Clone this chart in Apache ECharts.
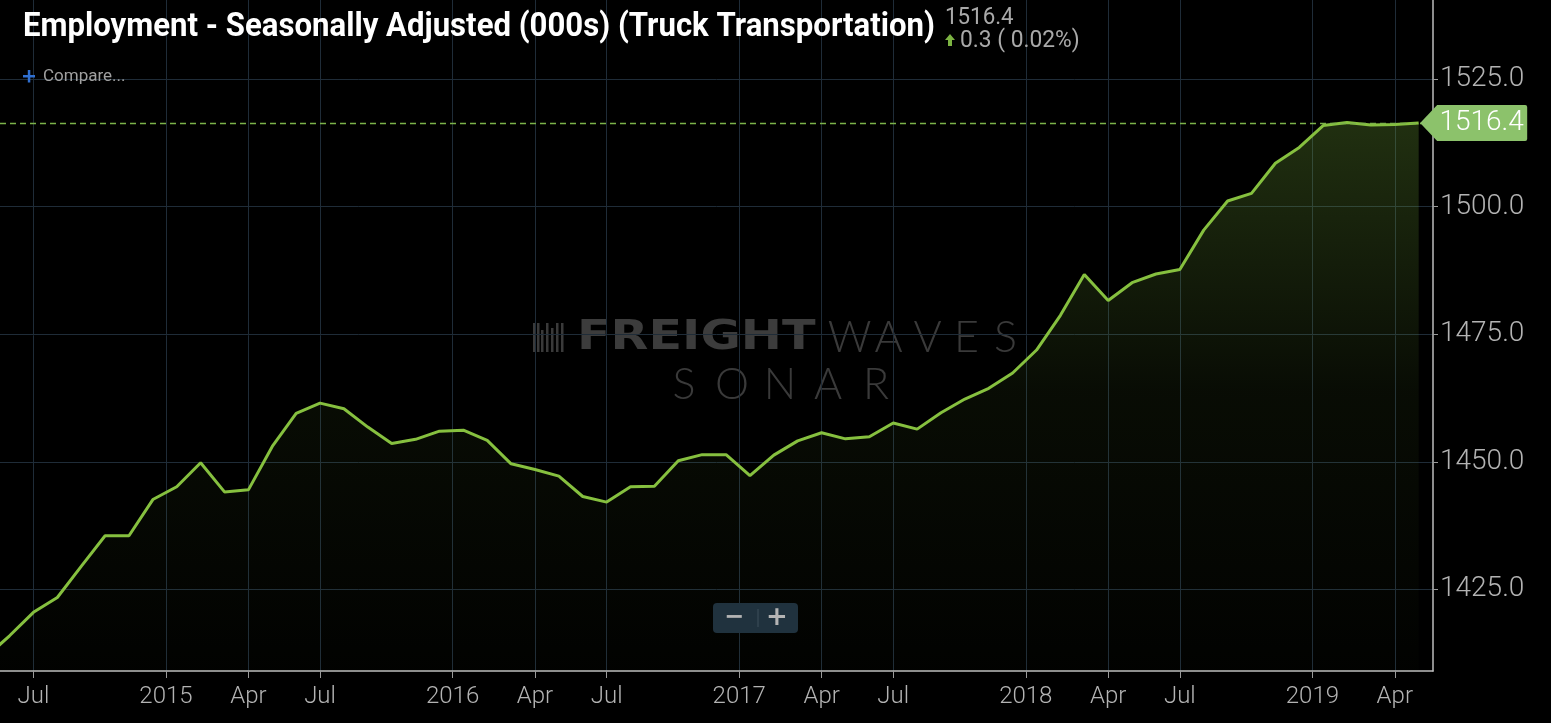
<!DOCTYPE html>
<html><head><meta charset="utf-8">
<script src="https://cdn.jsdelivr.net/npm/echarts@6/dist/echarts.min.js"></script>
<style>html,body{margin:0;padding:0;background:#000;}#c{width:1551px;height:723px;}</style>
</head><body><div id="c"></div>
<script>
const months = ['2014-05','2014-06','2014-07','2014-08','2014-09','2014-10','2014-11','2014-12',
'2015-01','2015-02','2015-03','2015-04','2015-05','2015-06','2015-07','2015-08','2015-09','2015-10','2015-11','2015-12',
'2016-01','2016-02','2016-03','2016-04','2016-05','2016-06','2016-07','2016-08','2016-09','2016-10','2016-11','2016-12',
'2017-01','2017-02','2017-03','2017-04','2017-05','2017-06','2017-07','2017-08','2017-09','2017-10','2017-11','2017-12',
'2018-01','2018-02','2018-03','2018-04','2018-05','2018-06','2018-07','2018-08','2018-09','2018-10','2018-11','2018-12',
'2019-01','2019-02','2019-03','2019-04','2019-05'];
const values = [1411.7,1415.9,1420.5,1423.4,1429.5,1435.5,1435.5,1442.6,
1445.1,1449.8,1444.1,1444.5,1453.0,1459.5,1461.5,1460.4,1456.8,1453.6,1454.4,1456.0,
1456.2,1454.2,1449.6,1448.5,1447.2,1443.2,1442.1,1445.1,1445.2,1450.2,1451.4,1451.4,
1447.3,1451.3,1454.1,1455.7,1454.5,1454.9,1457.6,1456.4,1459.6,1462.3,1464.4,1467.4,
1471.9,1478.7,1486.7,1481.6,1485.1,1486.8,1487.7,1495.4,1501.1,1502.6,1508.5,1511.6,
1515.9,1516.5,1516.0,1516.1,1516.4];
const tickMonths = ['2014-07','2015-01','2015-04','2015-07','2016-01','2016-04','2016-07','2017-01','2017-04','2017-07','2018-01','2018-04','2018-07','2019-01','2019-04'];
const tickLabels = ['Jul','2015','Apr','Jul','2016','Apr','Jul','2017','Apr','Jul','2018','Apr','Jul','2019','Apr'];
const yTicks = [1425,1450,1475,1500,1525];
const titleText = 'Employment - Seasonally Adjusted (000s) (Truck Transportation)';

const lastValue = values[values.length - 1];
const prevValue = values[values.length - 2];
const change = lastValue - prevValue;
const pct = change / prevValue * 100;

// year ticks sit at the Dec/Jan boundary, quarter ticks on the month itself
const tickPos = tickMonths.map(m => months.indexOf(m) - (m.endsWith('-01') ? 0.45 : 0));
const seriesData = months.map((m, i) => [i, values[i]]);

const chart = echarts.init(document.getElementById('c'));

function spaced(str, x0, x1, y, font, color) {
  const n = str.length, step = (x1 - x0) / n;
  return str.split('').map((ch, i) => ({
    type: 'text', z: -10, silent: true, x: x0 + step * (i + 0.5), y: y,
    style: { text: ch, font: font, fill: color, align: 'center', verticalAlign: 'middle' }
  }));
}

const barcode = [];
const barX = [533, 537, 541, 546, 551, 556, 561];
const barH = [[323,352],[323,352],[330,352],[323,352],[328,352],[323,352],[323,352]];
barX.forEach((bx, i) => barcode.push({ type: 'rect', z: -10, silent: true,
  shape: { x: bx, y: barH[i][0], width: 2.5, height: barH[i][1] - barH[i][0] }, style: { fill: '#3a3a3a' } }));

const option = {
  backgroundColor: '#000',
  animation: false,
  grid: { left: 0, right: 118, top: 0, bottom: 52, containLabel: false },
  xAxis: {
    type: 'value', min: 0.6, max: 60.6,
    axisLine: { show: true, lineStyle: { color: '#bdbdbd', width: 1.5 } },
    axisTick: { show: true, customValues: tickPos, length: 7, lineStyle: { color: '#9a9a9a' } },
    axisLabel: { customValues: tickPos, margin: 14, color: '#b3b3b3', fontSize: 24, fontFamily: 'Roboto', fontWeight: 300,
      formatter: v => { const k = tickPos.findIndex(p => Math.abs(p - v) < 0.01); return k >= 0 ? tickLabels[k] : ''; } },
    splitLine: { show: true, lineStyle: { color: '#1f2c38', width: 1 } }
  },
  yAxis: {
    type: 'value', position: 'right', min: 1409, max: 1540.5,
    axisLine: { show: true, lineStyle: { color: '#bdbdbd', width: 1.5 } },
    axisTick: { show: true, customValues: yTicks, length: 5, lineStyle: { color: '#9a9a9a' } },
    axisLabel: { customValues: yTicks, margin: 7, color: '#b3b3b3', fontSize: 28, fontFamily: 'Roboto', fontWeight: 300,
      formatter: v => v.toFixed(1) },
    splitLine: { show: true, lineStyle: { color: '#1f2c38', width: 1 } }
  },
  series: [{
    type: 'line', data: seriesData, showSymbol: false, clip: true,
    lineStyle: { color: '#86c03f', width: 3 },
    areaStyle: { color: { type: 'linear', x: 0, y: 110, x2: 0, y2: 671, global: true,
      colorStops: [ { offset: 0, color: 'rgba(110,160,55,0.44)' }, { offset: 0.5, color: 'rgba(110,160,55,0.11)' }, { offset: 1, color: 'rgba(110,160,55,0.02)' } ] } },
    markLine: { silent: true, symbol: ['none', 'none'], label: { show: false },
      lineStyle: { color: '#7cb34a', type: [6, 4], width: 1.3, opacity: 1 },
      data: [{ yAxis: lastValue }] },
    markPoint: { silent: true,
      symbol: 'path://M0,18 L17,0 L105,0 Q107,0 107,2 L107,34 Q107,36 105,36 L17,36 Z',
      symbolSize: [107, 36], symbolOffset: [55, 0], itemStyle: { color: '#8cc26b' },
      label: { show: true, position: 'inside', offset: [8, 0], color: '#fff', fontSize: 28, fontFamily: 'Roboto', fontWeight: 300,
        formatter: p => p.value.toFixed(1) },
      data: [{ coord: [values.length - 1, lastValue], value: lastValue }] }
  }],
  graphic: [
    { type: 'text', z: 100, x: 23, y: 27, scaleX: 0.916,
      style: { text: titleText, font: 'bold 34px Roboto', fill: '#ffffff', align: 'left', verticalAlign: 'middle' } },
    { type: 'text', z: 100, x: 945, y: 18, scaleX: 0.93,
      style: { text: lastValue.toFixed(1), font: '24px Roboto', fill: '#a9a9a9', align: 'left', verticalAlign: 'middle' } },
    { type: 'polygon', z: 100, shape: { points: [[950,34],[955,40],[952,40],[952,46],[948,46],[948,40],[945,40]] }, style: { fill: '#7cb342' } },
    { type: 'text', z: 100, x: 960, y: 41, scaleX: 0.99,
      style: { text: change.toFixed(1) + ' ( ' + pct.toFixed(2) + '%)', font: '23px Roboto', fill: '#a9a9a9', align: 'left', verticalAlign: 'middle' } },
    { type: 'rect', z: 100, shape: { x: 23, y: 75, width: 12, height: 2.5 }, style: { fill: '#2f6fd0' } },
    { type: 'rect', z: 100, shape: { x: 27.8, y: 70, width: 2.5, height: 12.5 }, style: { fill: '#2f6fd0' } },
    { type: 'text', z: 100, x: 43, y: 77,
      style: { text: 'Compare...', font: '17px Roboto', fill: '#a0a0a0', align: 'left', verticalAlign: 'middle' } },
    ...barcode,
    { type: 'text', z: -10, silent: true, x: 577, y: 338, scaleX: 1.2,
      style: { text: 'FREIGHT', font: 'bold 41px "DejaVu Sans"', fill: '#3c3c3c', align: 'left', verticalAlign: 'middle' } },
    ...spaced('WAVES', 830, 1025, 338, '300 43px Lato', '#3a3a3a'),
    ...spaced('SONAR', 660, 900, 385, '300 43px Lato', '#3a3a3a'),
    { type: 'rect', z: 100, shape: { x: 713, y: 603, width: 85, height: 30, r: 4 }, style: { fill: '#20323e' } },
    { type: 'line', z: 101, shape: { x1: 758, y1: 609, x2: 758, y2: 627 }, style: { stroke: '#3d4e5a', lineWidth: 1 } },
    { type: 'text', z: 101, x: 734, y: 618,
      style: { text: '\u2212', font: 'bold 24px "DejaVu Sans"', fill: '#b4b4b4', align: 'center', verticalAlign: 'middle' } },
    { type: 'text', z: 101, x: 777, y: 618,
      style: { text: '+', font: 'bold 26px "DejaVu Sans"', fill: '#b4b4b4', align: 'center', verticalAlign: 'middle' } }
  ]
};
chart.setOption(option);
</script></body></html>
